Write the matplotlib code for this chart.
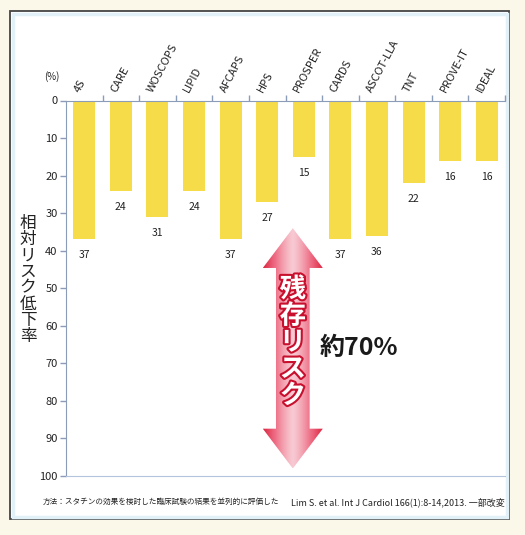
#!/usr/bin/env python3
"""
相対リスク低下率 - スタチン臨床試験の比較
"""

import numpy as np
import matplotlib
matplotlib.use("Agg")
import matplotlib.pyplot as plt
import matplotlib.patheffects as pe
from matplotlib.patches import Polygon, Rectangle

plt.rcParams["font.family"] = ["Noto Sans CJK JP", "DejaVu Sans"]

# 試験名と相対リスク低下率(%)
trials = ["4S", "CARE", "WOSCOPS", "LIPID", "AFCAPS", "HPS",
          "PROSPER", "CARDS", "ASCOT-LLA", "TNT", "PROVE-IT", "IDEAL"]
rrr = [37, 24, 31, 24, 37, 27, 15, 37, 36, 22, 16, 16]
yticks = list(range(0, 101, 10))

# 残存リスク矢印の範囲(%)
arrow_top = 34
arrow_bottom = 98

NARROW = ["Liberation Sans Narrow", "Noto Sans CJK JP", "DejaVu Sans"]

W, H = 525, 535
fig = plt.figure(figsize=(W / 100, H / 100), dpi=100)
fig.patch.set_facecolor("#fbf8e9")

# 外枠
fig.patches.append(Rectangle((10 / W, 1 - 519 / H), 499 / W, 508 / H,
                             transform=fig.transFigure, facecolor="white",
                             edgecolor="#444444", lw=1.3, zorder=-2))
fig.patches.append(Rectangle((12.5 / W, 1 - 516.5 / H), 494 / W, 503 / H,
                             transform=fig.transFigure, facecolor="none",
                             edgecolor="#e2f0f7", lw=2.5, zorder=-1))

ax = fig.add_axes([66 / W, 1 - 476 / H, 439 / W, 375.5 / H])
ax.set_facecolor("none")

x = np.arange(len(trials))
ax.bar(x, rrr, width=0.6, color="#f7dc4a", zorder=2)

for xi, v in zip(x, rrr):
    ax.annotate(str(v), (xi, v), xytext=(0, -11.5), textcoords="offset points",
                ha="center", va="center", fontsize=7.5, color="#222222",
                family=NARROW)

ax.set_xlim(-0.5, len(trials) - 0.5)
ax.set_ylim(100, 0)

# 軸
ax.spines["right"].set_visible(False)
ax.spines["left"].set_color("#8a9cb8")
ax.spines["top"].set_color("#8a9cb8")
ax.spines["bottom"].set_color("#b3c4dc")
ax.spines["bottom"].set_linestyle((0, (1, 0.8)))

ax.set_yticks(yticks)
ax.set_yticklabels([str(t) for t in yticks], fontsize=8, color="#222222",
                   family=NARROW)
ax.tick_params(axis="y", length=4, width=1, color="#8a9cb8", pad=2)

ax.xaxis.tick_top()
ax.set_xticks(x + 0.5)
ax.set_xticklabels([])
ax.tick_params(axis="x", direction="out", length=4, width=1, color="#8a9cb8")

# 試験名(斜め)
for xi, name in zip(x, trials):
    ax.annotate(name, (xi - 0.08, 0), xytext=(0, 5), textcoords="offset points",
                rotation=62, rotation_mode="anchor", ha="left", va="bottom",
                fontsize=8, color="#222222", family=NARROW)

ax.annotate("(%)", (0, 1), xycoords="axes fraction", xytext=(-10, 17),
            textcoords="offset points", ha="center", va="center",
            fontsize=7, color="#222222", family=NARROW)

# 縦書きラベル
fig.text(28 / W, 1 - 280 / H, "\n".join("相対リスク低下率"), ha="center",
         va="center", fontsize=12, linespacing=0.93, color="#222222")

# 残存リスク矢印(グラデーション)
cx = 5.70
shaft = 0.46
head = 0.82
hl = 10.6
pts = [(cx, arrow_top), (cx + head, arrow_top + hl), (cx + shaft, arrow_top + hl),
       (cx + shaft, arrow_bottom - hl), (cx + head, arrow_bottom - hl),
       (cx, arrow_bottom), (cx - head, arrow_bottom - hl),
       (cx - shaft, arrow_bottom - hl), (cx - shaft, arrow_top + hl),
       (cx - head, arrow_top + hl)]
poly = Polygon(pts, closed=True, facecolor="none", edgecolor="none", zorder=3)
ax.add_patch(poly)
g = np.linspace(-1, 1, 256)
grad = np.tile(np.abs(g) ** 1.3, (10, 1))
cmap = matplotlib.colors.LinearSegmentedColormap.from_list(
    "arr", ["#f8c9d2", "#ee6f86", "#dd2541"])
im = ax.imshow(grad, cmap=cmap,
               extent=(cx - head, cx + head, arrow_bottom, arrow_top),
               aspect="auto", zorder=3, interpolation="bilinear")
im.set_clip_path(poly)

ax.text(cx, (arrow_top + arrow_bottom) / 2 - 1.5, "\n".join("残存リスク"),
        ha="center", va="center", fontsize=19, fontweight="bold",
        color="white", linespacing=0.98, zorder=4,
        path_effects=[pe.withStroke(linewidth=3, foreground="#c8102e")])

ax.text(6.42, 66, "約70%", ha="left", va="center", fontsize=18,
        fontweight="bold", color="#1a1a1a", zorder=4)

# 脚注
fig.text(43 / W, 1 - 502 / H, "方法：スタチンの効果を検討した臨床試験の結果を並列的に評価した",
         ha="left", va="center", fontsize=5.5, color="#222222")
fig.text(505 / W, 1 - 502 / H,
         "Lim S. et al. Int J Cardiol 166(1):8-14,2013. 一部改変",
         ha="right", va="center", fontsize=6.5, color="#222222", family=NARROW)

fig.savefig("out.png", dpi=100, facecolor=fig.get_facecolor())
